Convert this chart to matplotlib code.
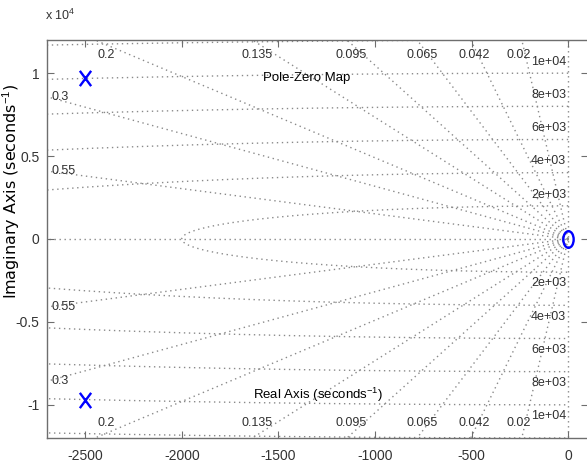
import numpy as np
import matplotlib
matplotlib.use("Agg")
import matplotlib.pyplot as plt
from matplotlib import font_manager as fm
from matplotlib.path import Path
from matplotlib.transforms import Affine2D
from matplotlib.ticker import FuncFormatter

# ---- data ----
pole_re = [-2500, -2500]
pole_im = [9682, -9682]
zero_re = [0]
zero_im = [0]
zetas = [0.02, 0.042, 0.065, 0.095, 0.135, 0.2, 0.3, 0.55]
zeta_labels = ["0.02", "0.042", "0.065", "0.095", "0.135", "0.2", "0.3", "0.55"]
wns = [2000, 4000, 6000, 8000, 10000, 12000]
wn_labels = ["2e+03", "4e+03", "6e+03", "8e+03", "1e+04", "1.2e+04"]
xticks = [-2500, -2000, -1500, -1000, -500, 0]
yticks = [-10000, -5000, 0, 5000, 10000]
xlim = (-2700, 100)
ylim = (-12000, 12000)

names = {f.name for f in fm.fontManager.ttflist}
narrow = "Liberation Sans Narrow" if "Liberation Sans Narrow" in names else "Liberation Sans"
plt.rcParams["font.family"] = [narrow, "DejaVu Sans"]
plt.rcParams["axes.unicode_minus"] = False
plt.rcParams["mathtext.fontset"] = "custom"
plt.rcParams["mathtext.rm"] = narrow
plt.rcParams["mathtext.it"] = narrow

W, H = 587, 466
fig = plt.figure(figsize=(W / 100, H / 100), dpi=100)
ax = fig.add_axes([46.5 / W, (H - 438) / H, (587.5 - 46.5) / W, 398 / H])
ax.set_xlim(*xlim)
ax.set_ylim(*ylim)

gcol = "#8a8a8a"
gkw = dict(color=gcol, lw=1.0, linestyle=(0, (1, 2.6)), zorder=1)
far = 1e6
# real axis (zeta=1) and imaginary axis (zeta=0)
ax.plot([-far, 0], [0, 0], **gkw)
ax.plot([0, 0], [-far, far], **gkw)
# damping rays
for z in zetas:
    s = np.sqrt(1 - z ** 2) / z
    ax.plot([0, -far / s], [0, far], **gkw)
    ax.plot([0, -far / s], [0, -far], **gkw)
# natural frequency semicircles
th = np.linspace(np.pi / 2, 3 * np.pi / 2, 800)
for wn in wns:
    ax.plot(wn * np.cos(th), wn * np.sin(th), **gkw)

lab_col = "#303030"
lfs = 9
# zeta labels
for z, lab in zip(zetas, zeta_labels):
    s = np.sqrt(1 - z ** 2) / z
    xt = -ylim[1] / s
    if xt > xlim[0]:
        off = min(105, 0.2 * abs(xt))
        for sg in (1, -1):
            ax.text(xt + off, sg * 11080, lab, ha="right", va="center",
                    fontsize=lfs, color=lab_col, zorder=3)
    else:
        yl = -xlim[0] * s
        for sg in (1, -1):
            ax.text(xlim[0] + 28, sg * yl, lab, ha="left", va="center",
                    fontsize=lfs, color=lab_col, zorder=3)
# wn labels
for wn, lab in zip(wns, wn_labels):
    if wn + 700 < ylim[1]:
        for sg in (1, -1):
            ax.text(-10, sg * (wn + 680), lab, ha="right", va="center",
                    fontsize=lfs, color=lab_col, zorder=3)

# markers (squeezed horizontally like the reference)
ell = Path.unit_circle().transformed(Affine2D().scale(0.62, 1.0))
xmark = Path([(-0.37, -0.5), (0.37, 0.5), (-0.37, 0.5), (0.37, -0.5)],
             [Path.MOVETO, Path.LINETO, Path.MOVETO, Path.LINETO])
ax.plot(pole_re, pole_im, linestyle="none", marker=xmark, markersize=11,
        markeredgecolor="#0000ff", markerfacecolor="none", mew=1.7, zorder=5)
ax.plot(zero_re, zero_im, linestyle="none", marker=ell, markersize=12,
        markeredgecolor="#0000ff", markerfacecolor="none", mew=1.7, zorder=5)

# ticks & spines
spc = "#6e6e6e"
for sp in ax.spines.values():
    sp.set_color(spc)
    sp.set_linewidth(1.0)
ax.set_xticks(xticks)
ax.set_yticks(yticks)
ax.yaxis.set_major_formatter(FuncFormatter(lambda v, p: f"{v / 1e4:g}"))
ax.tick_params(direction="in", length=5, width=0.8, color=spc, labelcolor="#333333",
               labelsize=10, top=True, right=True)
ax.tick_params(axis="x", pad=8)
ax.tick_params(axis="y", pad=5)

ax.text(0.481, 0.905, "Pole-Zero Map", transform=ax.transAxes, ha="center",
        va="center", fontsize=9.5, color="black", zorder=4)
ax.text(0.501, 0.108, r"Real Axis (seconds$^{\mathrm{-1}}$)", transform=ax.transAxes,
        ha="center", va="center", fontsize=9.5, color="black", zorder=4)
fig.text(11 / W, (H - 191) / H, r"Imaginary Axis (seconds$^{\mathrm{-1}}$)",
         rotation=90, ha="center", va="center", fontsize=11.5, color="black",
         family=["DejaVu Sans"])
fig.text(45 / W, (H - 15) / H, r"x 10$^{\mathrm{4}}$", ha="left", va="center",
         fontsize=9, color="#333333")

fig.savefig("out.png", dpi=100)
